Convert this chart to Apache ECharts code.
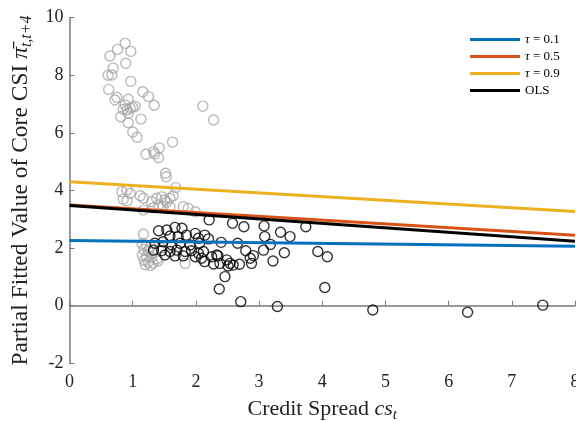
<!DOCTYPE html>
<html>
<head>
<meta charset="utf-8">
<script src="https://cdn.jsdelivr.net/npm/echarts@6/dist/echarts.min.js"></script>
<style>
html,body{margin:0;padding:0;background:#fff;}
#chart{width:576px;height:421px;}
</style>
</head>
<body>
<div id="chart"></div>
<script>
// x-axis ticks and y-axis ticks
const xTicks = [0, 1, 2, 3, 4, 5, 6, 7, 8];
const yTicks = [-2, 0, 2, 4, 6, 8, 10];

// Fitted lines: [x, y] at ends of the credit-spread range
const tau01 = [[0, 2.26], [8, 2.06]];
const tau05 = [[0, 3.50], [8, 2.45]];
const tau09 = [[0, 4.30], [8, 3.27]];
const ols   = [[0, 3.48], [8, 2.24]];

// Gray scatter points (credit spread, partial fitted value)
const grayPoints = [
  [0.88,9.11],[0.76,8.90],[0.97,8.83],[0.64,8.67],[0.89,8.42],[0.69,8.25],[0.61,8.00],[0.67,8.01],
  [0.97,7.79],[0.62,7.51],[1.16,7.43],[1.25,7.26],[0.75,7.24],[0.72,7.14],[0.93,7.17],[1.34,6.96],
  [0.88,6.97],[1.04,6.93],[0.96,6.86],[0.91,6.80],[0.85,6.82],[1.00,6.89],[0.93,6.68],[0.81,6.56],
  [1.13,6.48],[0.93,6.35],[2.11,6.93],[2.28,6.45],[1.00,6.03],[1.07,5.85],[1.63,5.68],[1.42,5.48],
  [1.21,5.26],[1.35,5.27],[1.41,5.14],[1.33,5.35],[1.52,4.60],[1.53,4.48],[1.68,4.10],
  [0.83,3.96],[0.91,4.02],[0.96,3.90],[0.85,3.70],[0.91,3.64],[1.12,3.82],[1.17,3.73],[1.30,3.61],
  [1.38,3.73],[1.46,3.78],[1.51,3.67],[1.54,3.59],[1.59,3.73],[1.64,3.82],[1.41,3.50],[1.48,3.44],
  [1.59,3.44],[1.17,3.32],[1.33,3.40],[1.80,3.44],[1.99,3.26],[1.88,3.38],
  [1.17,2.49],[1.15,2.15],[1.22,2.10],[1.28,2.05],[1.18,1.95],[1.25,1.90],[1.32,1.85],[1.15,1.75],
  [1.22,1.72],[1.30,1.68],[1.38,1.62],[1.18,1.58],[1.25,1.52],[1.32,1.48],[1.20,1.42],[1.28,1.40],
  [1.40,1.55],[1.83,1.47],[1.45,2.00]
];

// Black scatter points
const blackPoints = [
  [1.41,2.60],[1.54,2.63],[1.67,2.72],[1.78,2.69],[1.59,2.42],[1.72,2.40],[1.85,2.45],[1.99,2.51],
  [2.04,2.34],[2.14,2.45],[1.35,2.17],[1.48,2.22],[1.62,2.11],[1.75,2.17],[1.91,2.11],[2.06,2.17],
  [1.33,1.93],[1.46,1.91],[1.59,1.88],[1.70,1.93],[1.83,1.88],[1.93,1.91],[2.04,1.82],[2.12,1.88],
  [1.51,1.76],[1.67,1.73],[1.80,1.73],[1.99,1.70],[2.09,1.65],[2.14,1.53],[2.25,1.70],
  [2.21,2.98],[2.58,2.86],[2.76,2.74],[3.08,2.77],[3.34,2.55],[3.49,2.40],[3.74,2.74],[2.20,2.32],
  [2.40,2.20],[2.66,2.17],[3.09,2.40],[3.18,2.13],[3.07,1.93],[3.40,1.84],[2.79,1.91],[2.91,1.74],
  [2.86,1.65],[2.88,1.47],[3.22,1.55],[2.35,1.73],[2.33,1.76],[2.38,1.47],[2.28,1.45],[2.49,1.59],
  [2.54,1.47],[2.59,1.41],[2.69,1.44],[2.51,1.38],[2.46,1.01],[2.37,0.58],[2.71,0.14],[3.29,-0.03],
  [3.93,1.88],[4.08,1.70],[4.04,0.63],[4.80,-0.15],[6.30,-0.23],[7.49,0.02]
];

const seriesNames = ['τ = 0.1', 'τ = 0.5', 'τ = 0.9', 'OLS'];
const lineColors = ['#0072BD', '#D95319', '#EDB120', '#000000'];
const lineData = [tau01, tau05, tau09, ols];

const FONT = '"Liberation Serif", "DejaVu Serif", serif';
const chart = echarts.init(document.getElementById('chart'));

const lineSeries = seriesNames.map((n, i) => ({
  name: n,
  type: 'line',
  data: lineData[i],
  symbol: 'none',
  z: 5,
  lineStyle: { color: lineColors[i], width: 3 },
  itemStyle: { color: lineColors[i] },
  silent: true
}));

function makeRich(fs) {
  return {
    n: { fontFamily: FONT, fontSize: fs, color: '#222', lineHeight: fs + 4 },
    i: { fontFamily: FONT, fontSize: fs, fontStyle: 'italic', color: '#222', lineHeight: fs + 4 },
    s: { fontFamily: FONT, fontSize: Math.round(fs * 0.68), fontStyle: 'italic', color: '#222', lineHeight: fs + 4, verticalAlign: 'bottom', padding: [Math.round(fs * 0.5), 0, 0, 0] }
  };
}

chart.setOption({
  animation: false,
  backgroundColor: '#fff',
  grid: { left: 69.5, right: 1, top: 17.7, bottom: 57.7, containLabel: false, outerBoundsMode: 'none' },
  legend: {
    data: seriesNames,
    orient: 'vertical',
    left: 465,
    top: 26,
    icon: 'rect',
    itemWidth: 50,
    itemHeight: 3,
    itemGap: 0,
    textStyle: {
      fontFamily: FONT, fontSize: 13, color: '#000', lineHeight: 17,
      rich: { i: { fontFamily: FONT, fontStyle: 'italic', fontSize: 13, color: '#000', lineHeight: 17 } }
    },
    formatter: function (name) {
      return name.charAt(0) === 'τ' ? '{i|τ}' + name.slice(1) : name;
    }
  },
  xAxis: {
    type: 'value', min: 0, max: 8, interval: 1,
    name: '{n|Credit Spread }{i|cs}{s|t}',
    nameLocation: 'middle', nameGap: 32,
    nameTextStyle: { rich: makeRich(22) },
    axisLine: { show: true, lineStyle: { color: '#7a7a7a', width: 1.5 } },
    axisTick: { show: true, inside: true, length: 5, lineStyle: { color: '#7a7a7a', width: 1 } },
    axisLabel: { fontFamily: FONT, fontSize: 18, color: '#222', margin: 10 },
    splitLine: { show: false }
  },
  yAxis: {
    type: 'value', min: -2, max: 10, interval: 2,
    name: '{n|Partial Fitted Value of Core CSI }{i|π\u0304}{s|t,t+4}',
    nameLocation: 'middle', nameGap: 34, nameRotate: 90,
    nameTextStyle: { rich: makeRich(23.5) },
    axisLine: { show: true, lineStyle: { color: '#7a7a7a', width: 1.5 } },
    axisTick: { show: true, inside: true, length: 5, lineStyle: { color: '#7a7a7a', width: 1 } },
    axisLabel: { fontFamily: FONT, fontSize: 18, color: '#222', margin: 6 },
    splitLine: { show: false }
  },
  series: [
    {
      name: 'gray', type: 'scatter', data: grayPoints, symbol: 'circle', symbolSize: 10, z: 2,
      itemStyle: { color: 'rgba(0,0,0,0)', borderColor: '#a8a8a8', borderWidth: 1.4 }, silent: true
    },
    {
      name: 'black', type: 'scatter', data: blackPoints, symbol: 'circle', symbolSize: 10, z: 3,
      itemStyle: { color: 'rgba(0,0,0,0)', borderColor: '#000', borderWidth: 1.4 }, silent: true
    }
  ].concat(lineSeries)
});
</script>
</body>
</html>
